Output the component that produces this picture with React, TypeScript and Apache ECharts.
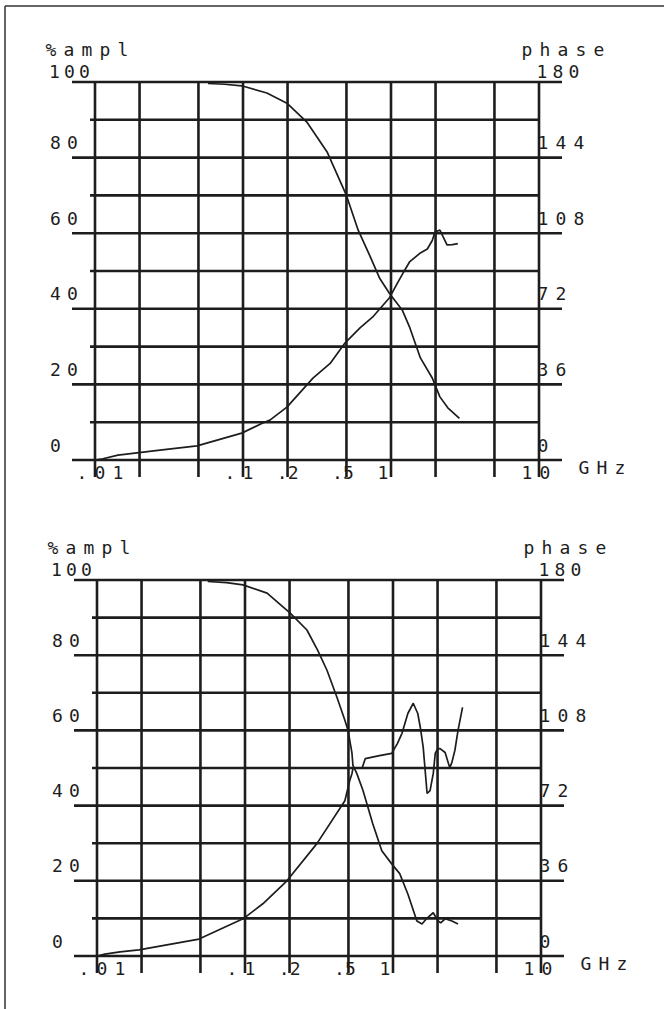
import React, { useEffect, useRef } from 'react';
import * as echarts from 'echarts';

// ---- data ----
const freqGrid = [0.01, 0.02, 0.05, 0.1, 0.2, 0.5, 1, 2, 5, 10];
const ampGrid = [0, 10, 20, 30, 40, 50, 60, 70, 80, 90, 100];
const freqTickValues = [0.01, 0.1, 0.2, 0.5, 1, 10];
const freqTickLabels = ['.01', '.1', '.2', '.5', '1', '10'];
const ampTickInterval = 20;
const phaseTickInterval = 36;
const phaseMax = 180;

// top panel: [GHz, % amplitude]
const ampTop = [
  [0.058, 99.6], [0.075, 99.4], [0.098, 99.0], [0.145, 97.1], [0.198, 94.4],
  [0.27, 89.4], [0.37, 81.5], [0.5, 70.0], [0.6, 60.8], [0.72, 54.0],
  [0.84, 48.0], [0.98, 44.0], [1.19, 39.7], [1.34, 35.0], [1.58, 27.0],
  [1.9, 21.7], [2.14, 16.7], [2.42, 13.8], [2.9, 11.0],
];
// top panel: [GHz, phase deg]
const phaseTop = [
  [0.01, 0], [0.0113, 0.6], [0.0143, 2.3], [0.0192, 3.4], [0.0275, 4.7],
  [0.0489, 6.7], [0.098, 12.8], [0.136, 17.6], [0.152, 19.0], [0.198, 25.2],
  [0.297, 39.0], [0.388, 46.0], [0.49, 55.8], [0.62, 63.0], [0.75, 68.0],
  [0.98, 77.4], [1.1, 84.0], [1.24, 90.5], [1.34, 94.5], [1.58, 98.6],
  [1.76, 100.5], [1.9, 104.5], [1.98, 108.5], [2.14, 109.5], [2.26, 106.0],
  [2.39, 102.4], [2.6, 102.6], [2.83, 103.0],
];
// bottom panel: [GHz, % amplitude]
const ampBottom = [
  [0.056, 99.6], [0.075, 99.3], [0.097, 98.7], [0.141, 96.5], [0.202, 91.2],
  [0.262, 86.7], [0.31, 81.3], [0.358, 76.0], [0.418, 68.8], [0.473, 62.7],
  [0.497, 60.0], [0.528, 54.0], [0.536, 50.7], [0.57, 48.5], [0.627, 44.0],
  [0.73, 35.2], [0.84, 28.0], [0.98, 24.5], [1.11, 21.9], [1.26, 16.5],
  [1.45, 9.3], [1.57, 8.5], [1.7, 10.1], [1.87, 11.5], [2.0, 9.5],
  [2.1, 8.8], [2.25, 9.9], [2.5, 9.3], [2.75, 8.5],
];
// bottom panel: [GHz, phase deg]
const phaseBottom = [
  [0.01, 0], [0.0113, 0.9], [0.0143, 2.0], [0.0192, 2.9], [0.0489, 8.1],
  [0.097, 17.8], [0.132, 25.0], [0.192, 36.0], [0.306, 53.8], [0.473, 74.3],
  [0.51, 84.0], [0.528, 87.3], [0.536, 89.8], [0.62, 90.2], [0.65, 94.5],
  [0.81, 95.9], [0.98, 97.0], [1.07, 101.7], [1.15, 106.6], [1.26, 116.1],
  [1.37, 121.0], [1.47, 116.1], [1.53, 109.4], [1.6, 99.9], [1.7, 77.8],
  [1.78, 79.2], [1.87, 87.3], [1.93, 97.0], [1.98, 98.5], [2.07, 99.4],
  [2.25, 97.4], [2.37, 92.2], [2.42, 90.2], [2.5, 92.7], [2.62, 98.5],
  [2.75, 108.0], [2.95, 119.0],
];

const ampSeries = [ampTop, ampBottom];
const phaseSeries = [phaseTop, phaseBottom];

// ---- layout / style ----
const INK = '#1d1d1d';
const FONT_FAMILY = 'DejaVu Sans Mono';
const FS = 18;
const FONT = `${FS}px "${FONT_FAMILY}"`;
const panels = [
  { left: 95, top: 82, width: 444, height: 378 },
  { left: 97, top: 580, width: 444, height: 376 },
];
// per-label horizontal nudge and character pitch (px)
const labelLayout: Record<string, [number, number]> = {
  '.01': [5, 18], '.1': [-4, 18], '.2': [0, 11], '.5': [-3.5, 11], '1': [-8, 18], '10': [-3, 18],
};

function charRow(text: string, x0: number, y: number, step: number) {
  return text.split('').map((ch, i) => ({
    type: 'text',
    x: x0 + step * (i + 0.5),
    y,
    silent: true,
    style: { text: ch, fill: INK, font: FONT, align: 'center', verticalAlign: 'middle' },
  }));
}

function cells(v: number, max: number) {
  const key = v === max ? 'm' : 'c';
  return String(v).split('').map((ch) => `{${key}|${ch}}`).join('');
}

export default function App() {
  const ref = useRef<HTMLDivElement>(null);
  useEffect(() => {
    if (!ref.current) return;
    const chart = echarts.init(ref.current, undefined, { renderer: 'svg' });

    const series: any[] = [];
    panels.forEach((_, p) => {
      series.push({
        type: 'custom',
        xAxisIndex: p,
        yAxisIndex: 2 * p,
        silent: true,
        z: 1,
        clip: false,
        dimensions: ['f', 'v', 'kind'],
        encode: { x: 0, y: 1 },
        data: [
          ...freqGrid.map((f) => [f, ampGrid[0], 0]),
          ...ampGrid.map((v) => [freqGrid[0], v, 1]),
        ],
        renderItem: (_params: any, api: any) => {
          const kind = api.value(2);
          const style = { stroke: INK, lineWidth: 2.6 };
          if (kind === 0) {
            const f = api.value(0);
            const a = api.coord([f, ampGrid[ampGrid.length - 1]]);
            const b = api.coord([f, ampGrid[0]]);
            return { type: 'line', shape: { x1: a[0], y1: a[1], x2: b[0], y2: b[1] + 17 }, style };
          }
          const v = api.value(1);
          const l = api.coord([freqGrid[0], v]);
          const r = api.coord([freqGrid[freqGrid.length - 1], v]);
          const major = v % ampTickInterval === 0;
          return {
            type: 'line',
            shape: { x1: l[0] - (major ? 23 : 5), y1: l[1], x2: r[0] + (major ? 23 : 0), y2: r[1] },
            style,
          };
        },
      });
      series.push({
        type: 'custom',
        xAxisIndex: p,
        yAxisIndex: 2 * p,
        silent: true,
        z: 3,
        clip: false,
        data: freqTickValues.map((f) => [f, ampGrid[0]]),
        renderItem: (params: any, api: any) => {
          const text = freqTickLabels[params.dataIndex];
          const [dx, step] = labelLayout[text] || [0, 18];
          const pt = api.coord([api.value(0), ampGrid[0]]);
          const chars = text.split('');
          return {
            type: 'group',
            children: chars.map((ch, k) => ({
              type: 'text',
              x: pt[0] + dx + (k - (chars.length - 1) / 2) * step,
              y: pt[1] + 12,
              style: { text: ch, fill: INK, font: FONT, align: 'center', verticalAlign: 'middle' },
            })),
          };
        },
      });
      series.push({
        type: 'line',
        name: '%ampl',
        xAxisIndex: p,
        yAxisIndex: 2 * p,
        data: ampSeries[p],
        symbol: 'none',
        showSymbol: false,
        silent: true,
        z: 4,
        lineStyle: { color: INK, width: 1.7 },
      });
      series.push({
        type: 'line',
        name: 'phase',
        xAxisIndex: p,
        yAxisIndex: 2 * p + 1,
        data: phaseSeries[p],
        symbol: 'none',
        showSymbol: false,
        silent: true,
        z: 4,
        lineStyle: { color: INK, width: 1.7 },
      });
    });

    const richLeft = {
      c: { width: 17, align: 'center', fontSize: FS, fontFamily: FONT_FAMILY, color: INK, lineHeight: 18 },
      m: { width: 15, align: 'center', fontSize: FS, fontFamily: FONT_FAMILY, color: INK, lineHeight: 10 },
    };
    const richRight = {
      c: { width: 18, align: 'center', fontSize: FS, fontFamily: FONT_FAMILY, color: INK, lineHeight: 18 },
      m: { width: 16, align: 'center', fontSize: FS, fontFamily: FONT_FAMILY, color: INK, lineHeight: 10 },
    };
    const hidden = { axisLine: { show: false }, axisTick: { show: false }, splitLine: { show: false } };

    const yAxis: any[] = [];
    panels.forEach((_, p) => {
      yAxis.push({
        type: 'value', gridIndex: p, position: 'left', min: 0, max: ampGrid[ampGrid.length - 1],
        interval: ampTickInterval, ...hidden,
        axisLabel: {
          show: true, showMinLabel: true, showMaxLabel: true, align: 'left', margin: 48,
          verticalAlign: 'bottom', padding: [0, 0, 6, 0],
          formatter: (v: number) => cells(v, ampGrid[ampGrid.length - 1]), rich: richLeft,
        },
      });
      yAxis.push({
        type: 'value', gridIndex: p, position: 'right', min: 0, max: phaseMax,
        interval: phaseTickInterval, ...hidden,
        axisLabel: {
          show: true, showMinLabel: true, showMaxLabel: true, align: 'left', margin: -5,
          verticalAlign: 'bottom', padding: [0, 0, 6, 0],
          formatter: (v: number) => cells(v, phaseMax), rich: richRight,
        },
      });
    });

    const graphic: any[] = [
      { type: 'line', silent: true, shape: { x1: 5, y1: 6, x2: 664, y2: 6 }, style: { stroke: '#333', lineWidth: 1.5 } },
      { type: 'line', silent: true, shape: { x1: 5, y1: 6, x2: 5, y2: 1009 }, style: { stroke: '#333', lineWidth: 1.5 } },
    ];
    panels.forEach((g) => {
      graphic.push(...charRow('%ampl', g.left - 53, g.top - 33, 18));
      graphic.push(...charRow('phase', g.left + g.width - 21, g.top - 33, 18));
      graphic.push(...charRow('GHz', g.left + g.width + 36, g.top + g.height + 7, 18));
    });

    chart.setOption({
      animation: false,
      backgroundColor: '#ffffff',
      grid: panels.map((g) => ({ ...g, containLabel: false, outerBoundsMode: 'none' })),
      xAxis: panels.map((_, p) => ({
        type: 'log', logBase: 10, gridIndex: p, min: freqGrid[0], max: freqGrid[freqGrid.length - 1],
        ...hidden, axisLabel: { show: false },
      })),
      yAxis,
      series,
      graphic,
    });
    return () => chart.dispose();
  }, []);
  return (
    <div
      ref={ref}
      style={{ position: 'absolute', left: 0, top: 0, width: 664, height: 1009, background: '#fff' }}
    />
  );
}
